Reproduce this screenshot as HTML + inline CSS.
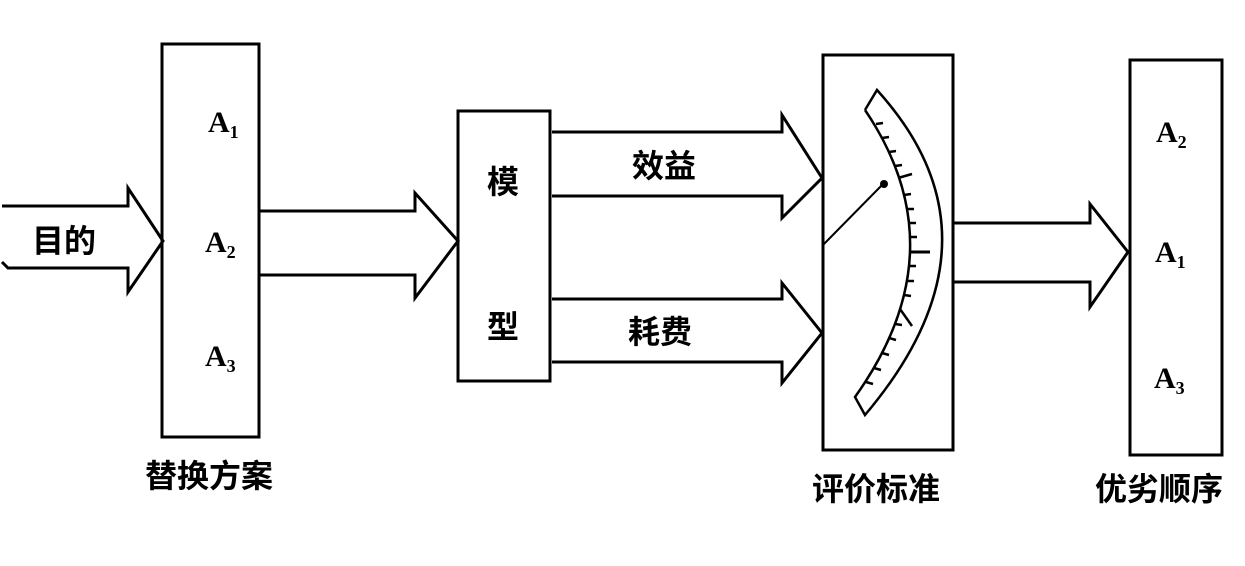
<!DOCTYPE html>
<html><head><meta charset="utf-8"><style>
body{margin:0;background:#fff;}
svg{display:block}
text{font-family:"Liberation Serif","Noto Serif CJK SC",serif;font-weight:bold;fill:#000}
.c{font-family:"Liberation Sans","Noto Sans CJK SC",sans-serif;font-weight:bold}
</style></head><body>
<svg width="1245" height="566" viewBox="0 0 1245 566" xmlns="http://www.w3.org/2000/svg">
<g fill="none" stroke="#000" stroke-width="3" stroke-linejoin="miter">
<rect x="162" y="44" width="97" height="393"/>
<rect x="458" y="111" width="92" height="270"/>
<rect x="823" y="55" width="130" height="395"/>
<rect x="1130" y="60" width="92" height="395"/>
<polyline points="2,206 128,206 128,188 163,241 128,292 128,268 8,268 2,262"/>
<polyline points="260,211 415,211 415,193 458,241 415,298 415,275 260,275"/>
<polyline points="552,132 782,132 782,115 822,178 782,218 782,196 552,196"/>
<polyline points="552,299 782,299 782,283 822,333 782,383 782,362 552,362"/>
<polyline points="953,223 1090,223 1090,204 1128,252 1090,307 1090,282 953,282"/>
<path d="M865,110 L877,90 Q1013,240 865,415 L855,397 Q960,250 865,110" stroke-width="2.5"/>
<line x1="823" y1="245" x2="885" y2="182" stroke-width="2"/>
<line x1="910" y1="252" x2="930" y2="252"/>
</g>
<circle cx="884" cy="184" r="4"/>
<g stroke="#000" stroke-width="2.5">
<line x1="876" y1="124" x2="883" y2="123"/>
<line x1="882" y1="138" x2="889" y2="137"/>
<line x1="889" y1="152" x2="896" y2="151"/>
<line x1="895" y1="166" x2="902" y2="165"/>
<line x1="898" y1="178" x2="912" y2="174"/>
<line x1="904" y1="195" x2="911" y2="194"/>
<line x1="907" y1="209" x2="914" y2="209"/>
<line x1="909" y1="223" x2="916" y2="223"/>
<line x1="910" y1="237" x2="917" y2="237"/>
<line x1="909" y1="266" x2="916" y2="266"/>
<line x1="907" y1="281" x2="914" y2="281"/>
<line x1="904" y1="295" x2="911" y2="296"/>
<line x1="900" y1="309" x2="912" y2="326"/>
<line x1="895" y1="324" x2="902" y2="325"/>
<line x1="889" y1="338" x2="896" y2="340"/>
<line x1="882" y1="353" x2="889" y2="355"/>
<line x1="874" y1="368" x2="881" y2="370"/>
<line x1="866" y1="382" x2="873" y2="384"/>
</g>
<g font-size="30">
<text x="208" y="132">A<tspan font-size="18" dy="6">1</tspan></text>
<text x="205" y="252">A<tspan font-size="18" dy="6">2</tspan></text>
<text x="205" y="366">A<tspan font-size="18" dy="6">3</tspan></text>
<text x="1156" y="142">A<tspan font-size="18" dy="6">2</tspan></text>
<text x="1155" y="262">A<tspan font-size="18" dy="6">1</tspan></text>
<text x="1154" y="388">A<tspan font-size="18" dy="6">3</tspan></text>
</g>
<g class="c" font-size="32">
<text class="c" x="32" y="252">目的</text>
<text class="c" x="487" y="193">模</text>
<text class="c" x="487" y="338">型</text>
<text class="c" x="632" y="177">效益</text>
<text class="c" x="628" y="343">耗费</text>
<text class="c" x="145" y="487">替换方案</text>
<text class="c" x="812" y="500">评价标准</text>
<text class="c" x="1095" y="500">优劣顺序</text>
</g>
</svg>
</body></html>
